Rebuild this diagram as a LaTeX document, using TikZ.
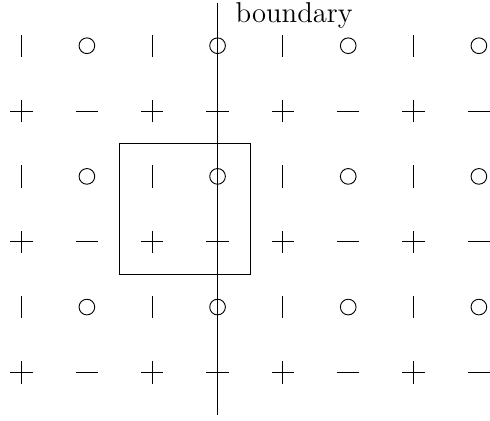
\documentclass[tikz,border=0pt]{standalone}
\usetikzlibrary{positioning}

\begin{document}
\begin{tikzpicture}[
  sym/.style={line width=0.4pt},
  frame/.style={draw, line width=0.5pt},
  lbl/.style={font=\large, inner sep=0pt, anchor=base west},
]
\useasboundingbox (-0.33,-0.74) rectangle (7.17,5.70);

% -- bars and circles --
\foreach \x in {0,2,4,6}
  \foreach \y in {1,3,5}
    \draw[sym] (\x,\y-0.17) -- (\x,\y+0.17);
\foreach \x in {1,3,5,7}
  \foreach \y in {1,3,5}
    \draw[sym] (\x,\y) circle (0.12);

% -- plus and minus --
\foreach \x in {0,2,4,6}
  \foreach \y in {0,2,4}
    \draw[sym] (\x-0.17,\y) -- (\x+0.17,\y) (\x,\y-0.17) -- (\x,\y+0.17);
\foreach \x in {1,3,5,7}
  \foreach \y in {0,2,4}
    \draw[sym] (\x-0.17,\y) -- (\x+0.17,\y);

% -- cell --
\node[frame, minimum width=2cm, minimum height=2cm, inner sep=0pt] (cell) at (2.5,2.5) {};

% -- boundary --
\coordinate (btop) at (3,5.66);
\coordinate (bbot) at (3,-0.65);
\draw[frame] (btop) -- (bbot);
\node[lbl, scale=1.04] (blabel) at (3.27,5.36) {boundary};

\end{tikzpicture}
\end{document}
